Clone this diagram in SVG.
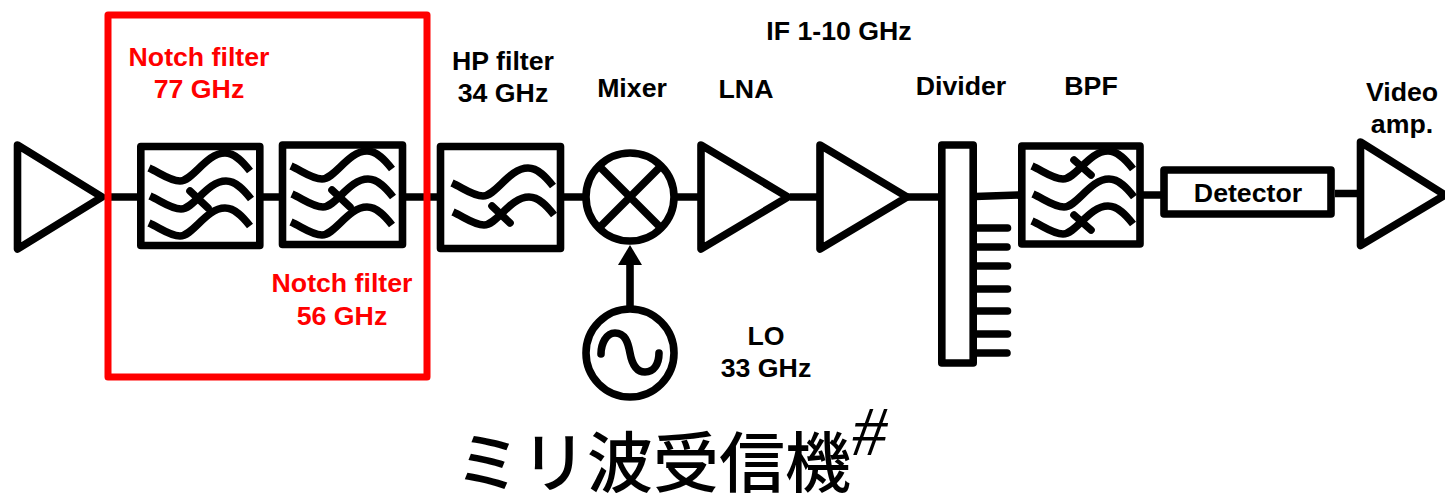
<svg xmlns="http://www.w3.org/2000/svg" xmlns:xlink="http://www.w3.org/1999/xlink" width="1445" height="493" viewBox="0 0 1445 493">
<style>
.s{fill:none;stroke:#000;stroke-width:7.600;stroke-linejoin:round}
.f{fill:#fff;stroke:#000;stroke-width:7.600;stroke-linejoin:round}
.c{fill:none;stroke:#000;stroke-width:7.600;stroke-linecap:round}
.w{fill:none;stroke:#000;stroke-width:7.600}
.t{font-family:"Liberation Sans",Arial,sans-serif;font-weight:700;font-size:26.700px;text-anchor:middle;fill:#000}
.r{fill:#f00}
</style>
<defs>
<path id="wave" class="w" d="M0 0C11 5 21 13 31 13C44 13 57-15 76-15C86-15 94-6 101 3"/>
</defs>
<rect width="1445" height="493" fill="#fff"/>
<g id="connectors">
<path class="s" d="M105 197H137M263 197H279M406 197H437M564 197H583M677 197H700M790 197H820M908 197H940M975 196.500L1019 195M1143 195H1161M1335 193.500H1358"/>
<path class="s" d="M630 307V262"/>
<path d="M630 245L642 265H618Z" fill="#000"/>
<path class="c" d="M976 228H1007.500M976 247H1007M976 266H1007.500M976 289H1007.500M976 311H1007.500M976 334H1007.500M976 353H1007"/>
</g>
<g id="amp-in"><path class="f" d="M17.500 145L102 197L17.500 249Z"/></g>
<g id="notch-77">
<rect class="f" x="140.800" y="146.500" width="119" height="99"/>
<use xlink:href="#wave" href="#wave" x="149" y="168"/>
<use xlink:href="#wave" href="#wave" x="150" y="196"/>
<use xlink:href="#wave" href="#wave" x="149" y="223"/>
<path class="c" d="M190 191L208 208"/>
</g>
<g id="notch-56">
<rect class="f" x="282.500" y="145" width="120" height="99.500"/>
<use xlink:href="#wave" href="#wave" x="291" y="166"/>
<use xlink:href="#wave" href="#wave" x="292" y="194"/>
<use xlink:href="#wave" href="#wave" x="291" y="222"/>
<path class="c" d="M332 190L350 207"/>
</g>
<g id="hp-filter">
<rect class="f" x="440.500" y="146.500" width="120" height="102"/>
<use xlink:href="#wave" href="#wave" x="452" y="183"/>
<use xlink:href="#wave" href="#wave" x="453" y="212"/>
<path class="c" d="M492 206L510 223"/>
</g>
<g id="mixer">
<circle class="f" cx="630" cy="197" r="44"/>
<path class="s" d="M599 166L661 228M661 166L599 228"/>
</g>
<g id="lo">
<circle class="f" cx="630" cy="353" r="44"/>
<path class="c" d="M601 354C601 344 606 333 615 333C625 333 628 342 630 353C632 364 636 372 645 372C654 372 659 364 659 353"/>
</g>
<g id="lna"><path class="f" d="M701 145L788 197L701 249Z"/></g>
<g id="amp-2"><path class="f" d="M820 145L907 197L820 249Z"/></g>
<g id="divider"><rect class="f" x="941.800" y="145" width="31.400" height="218"/></g>
<g id="bpf">
<rect class="f" x="1021.800" y="146" width="118.200" height="98"/>
<use xlink:href="#wave" href="#wave" x="1032" y="166"/>
<use xlink:href="#wave" href="#wave" x="1033" y="194"/>
<use xlink:href="#wave" href="#wave" x="1032" y="221"/>
<path class="c" d="M1074 160L1091 175M1074 215L1091 230"/>
</g>
<g id="detector">
<rect class="f" x="1164" y="170" width="167" height="44"/>
<text class="t" x="1248" y="202">Detector</text>
</g>
<g id="video-amp"><path class="f" d="M1360.500 142L1445 195L1360.500 245.500Z"/></g>
<g id="notch-box"><rect x="108" y="15" width="319" height="362" fill="none" stroke="#f00" stroke-width="7" stroke-linejoin="round"/></g>
<g id="labels">
<text class="t" x="839" y="40">IF 1-10 GHz</text>
<text class="t r" x="199" y="66">Notch filter</text>
<text class="t r" x="199" y="98">77 GHz</text>
<text class="t" x="503" y="70">HP filter</text>
<text class="t" x="503" y="102">34 GHz</text>
<text class="t" x="632" y="97">Mixer</text>
<text class="t" x="746" y="98">LNA</text>
<text class="t" x="961" y="95">Divider</text>
<text class="t" x="1091" y="95">BPF</text>
<text class="t" x="1402" y="101">Video</text>
<text class="t" x="1402" y="133">amp.</text>
<text class="t r" x="342" y="292">Notch filter</text>
<text class="t r" x="342" y="325">56 GHz</text>
<text class="t" x="766" y="345">LO</text>
<text class="t" x="766" y="377">33 GHz</text>
<text x="455" y="487" font-family="'Noto Sans CJK JP',sans-serif" font-weight="500" font-size="66px" fill="#000">ミリ波受信機</text>
<text x="852" y="455" font-family="'Liberation Serif',serif" font-style="italic" font-size="70px" fill="#000">#</text>
</g>
</svg>
